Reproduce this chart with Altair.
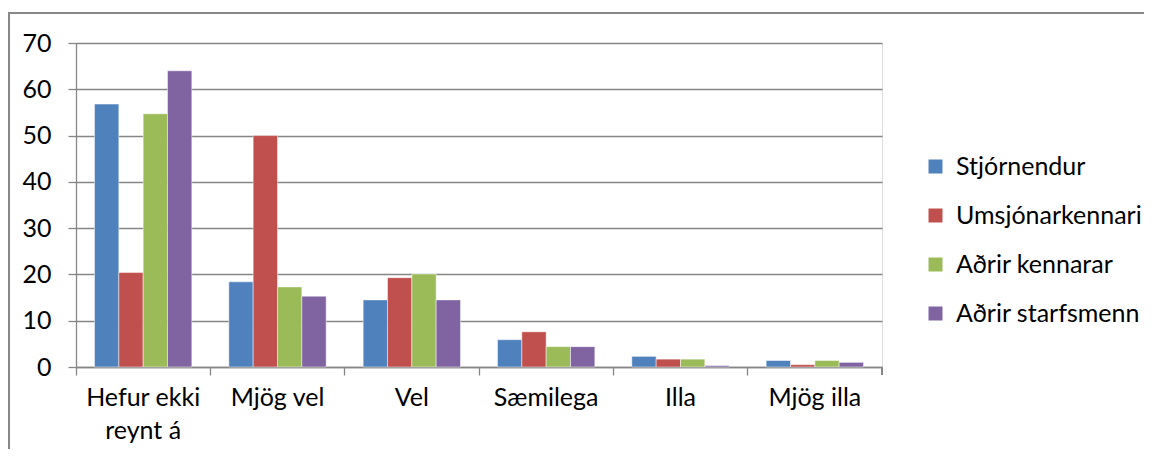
import altair as alt
import pandas as pd

categories = ["Hefur ekki reynt á", "Mjög vel", "Vel", "Sæmilega", "Illa", "Mjög illa"]
series = ["Stjórnendur", "Umsjónarkennari", "Aðrir kennarar", "Aðrir starfsmenn"]
stjornendur = [56.8, 18.4, 14.5, 5.9, 2.3, 1.4]
umsjonarkennari = [20.4, 50.0, 19.3, 7.6, 1.7, 0.5]
adrir_kennarar = [54.7, 17.3, 20.1, 4.4, 1.7, 1.4]
adrir_starfsmenn = [64.0, 15.3, 14.5, 4.4, 0.3, 1.0]
colors = ["#4F81BD", "#C0504D", "#9BBB59", "#8064A2"]
y_ticks = [0, 10, 20, 30, 40, 50, 60, 70]

values = [stjornendur, umsjonarkennari, adrir_kennarar, adrir_starfsmenn]
rows = []
for s, vals in zip(series, values):
    for c, v in zip(categories, vals):
        rows.append({"Flokkur": c, "Hópur": s, "Gildi": v})
df = pd.DataFrame(rows)

W, H = 806, 324
PL, PT, PR, PB = 68, 35, 262, 82
FONT = "Lato"
FS = 25

bars = alt.Chart(df).mark_bar(stroke="white", strokeWidth=0.8, strokeOpacity=0.6).encode(
    x=alt.X("Flokkur:N", sort=categories, title=None,
            scale=alt.Scale(paddingInner=0, paddingOuter=0),
            axis=alt.Axis(bandPosition=0, labelAngle=0, domainColor="#868686", domainWidth=1.3,
                          tickColor="#868686", tickWidth=1.3, tickSize=8,
                          labelFont=FONT, labelFontSize=FS, labelColor="#000000",
                          labelPadding=10, labelLineHeight=33, labelBaseline="top",
                          labelLimit=300,
                          labelExpr="datum.label == 'Hefur ekki reynt á' ? ['Hefur ekki', 'reynt á'] : datum.label")),
    xOffset=alt.XOffset("Hópur:N", sort=series, scale=alt.Scale(paddingOuter=0.76, paddingInner=0)),
    y=alt.Y("Gildi:Q", title=None, scale=alt.Scale(domain=[0, 70], nice=False),
            axis=alt.Axis(values=y_ticks, domainColor="#868686", domainWidth=1.3,
                          gridColor="#868686", gridWidth=1.3, tickColor="#868686",
                          tickWidth=1.3, tickSize=8, labelFont=FONT, labelFontSize=FS,
                          labelColor="#000000", labelPadding=17)),
    color=alt.Color("Hópur:N", sort=series,
                    scale=alt.Scale(domain=series, range=colors),
                    legend=alt.Legend(title=None, orient="none", legendX=847, legendY=111,
                                      symbolType="square", symbolSize=196, symbolStrokeWidth=0,
                                      labelFont=FONT, labelFontSize=FS, labelColor="#000000",
                                      rowPadding=23, labelOffset=8, labelLimit=400)),
)

end_tick = alt.Chart(df).mark_rule(color="#868686", strokeWidth=1.3).encode(
    x=alt.value(W), y=alt.value(H), y2=alt.value(H + 8)
)

frame_top = alt.Chart(df).mark_rule(color="#888888", strokeWidth=1.5).encode(
    x=alt.value(-67.2), x2=alt.value(W + PR), y=alt.value(-30)
)
frame_left = alt.Chart(df).mark_rule(color="#888888", strokeWidth=1.5).encode(
    x=alt.value(-67.2), y=alt.value(-30.75), y2=alt.value(H + PB)
)

chart = alt.layer(frame_top, frame_left, bars, end_tick).properties(
    width=W, height=H,
    autosize=alt.AutoSizeParams(type="none"),
    padding={"left": PL, "top": PT, "right": PR, "bottom": PB},
).configure_view(stroke=None).configure(background="white")

chart.save("out.html", embed_options={"renderer": "svg", "actions": False})
